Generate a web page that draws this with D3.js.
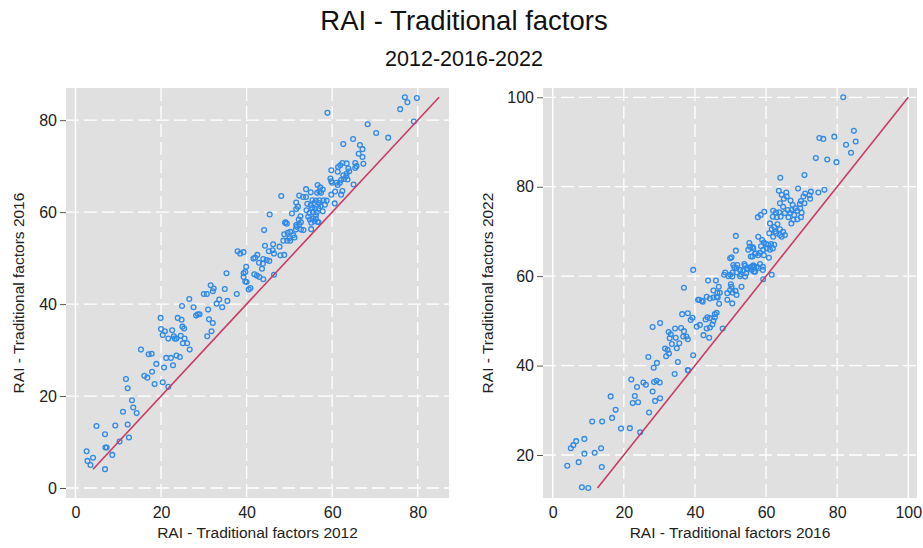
<!DOCTYPE html>
<html>
<head>
<meta charset="utf-8">
<script src="https://cdn.jsdelivr.net/npm/d3@7"></script>
<style>
  html, body { margin: 0; padding: 0; background: #ffffff; }
  svg { display: block; font-family: "Liberation Sans", Arial, sans-serif; }
</style>
</head>
<body>
<svg id="chart" width="923" height="548"></svg>
<script>
// Chart text
const mainTitle = "RAI - Traditional factors";
const subTitle = "2012-2016-2022";
const xTitles = ["RAI - Traditional factors 2012", "RAI - Traditional factors 2016"];
const yTitles = ["RAI - Traditional factors 2016", "RAI - Traditional factors 2022"];

// Tick values per panel
const xTicksA = [0, 20, 40, 60, 80];
const yTicksA = [0, 20, 40, 60, 80];
const xTicksB = [0, 20, 40, 60, 80, 100];
const yTicksB = [20, 40, 60, 80, 100];

// Axis extents per panel
const xDomainA = [-2.22, 87.32];
const yDomainA = [-2.17, 87.0];
const xDomainB = [-2.73, 102.45];
const yDomainB = [10.38, 102.08];

// Regions: score 2012 vs score 2016
const pairs1216 = [
  [2.6,8.0],[2.8,5.9],[3.5,5.0],[4.1,6.6],[6.9,4.1],[4.9,13.5],[6.9,11.7],[7.0,8.8],[7.3,8.8],[8.6,7.2],
  [9.3,13.6],[10.3,10.1],[11.1,16.6],[12.2,13.8],[12.5,11.0],[12.2,21.7],[11.8,23.7],[13.2,19.1],[13.5,17.5],[14.3,16.3],
  [16.1,24.4],[16.8,24.0],[17.9,25.3],[18.5,22.6],[20.4,23.0],[21.7,22.0],
  [15.3,30.1],[17.1,29.1],[17.8,29.2],[18.9,27.0],[20.7,26.2],[22.8,26.7],[21.2,28.3],[22.3,28.3],[23.6,28.8],[24.4,28.5],[26.7,30.1],
  [20.4,33.3],[21.7,32.5],[23.0,33.0],[23.2,32.5],[23.6,32.5],[24.6,33.1],[25.5,32.5],[25.1,31.5],[26.1,31.5],[30.8,33.0],
  [20.0,34.6],[20.9,34.1],[22.6,34.3],[25.0,35.1],[25.4,34.7],[31.8,34.1],
  [19.9,37.0],[23.9,37.0],[24.8,36.6],[28.2,37.5],[28.6,37.8],[29.0,37.8],[31.2,36.7],[32.1,35.9],
  [26.6,41.1],[24.9,39.6],[27.6,39.3],[31.0,38.8],[33.6,41.0],[35.5,40.7],[33.0,40.1],[34.3,39.3],
  [31.6,44.1],[32.3,43.4],[32.1,42.8],[34.9,43.3],[30.0,42.2],[30.7,42.2],[37.7,42.2],
  [35.3,46.7],[39.3,45.9],[39.7,44.9],[40.0,44.8],[40.5,43.2],[40.9,43.5],
  [39.9,48.1],[39.7,47.0],[39.3,46.7],[41.8,46.5],[42.4,46.2],[43.0,45.9],[43.9,45.4],[46.4,46.4],
  [37.9,51.5],[38.5,51.0],[39.3,51.3],[42.5,50.7],[41.6,49.9],[42.0,50.1],[43.9,49.8],[44.7,49.6],[45.3,49.4],[42.9,49.0],[43.8,48.8],[43.6,47.7],
  [44.1,56.1],[49.0,57.7],[48.8,55.2],[49.6,55.5],[48.6,53.8],[49.5,53.8],[44.3,52.7],[46.2,53.0],[45.2,51.5],[46.1,51.7],[46.4,51.0],[47.7,52.5],[47.9,50.6],[48.8,50.7],
  [45.4,59.5],[48.1,63.5],[50.6,59.7],[49.1,57.8],[49.4,57.5],[51.7,56.8],[51.5,56.2],[52.7,56.2],[53.3,56.1],[55.1,56.3],[56.8,57.8],
  [50.2,55.7],[50.9,55.0],[51.2,54.5],[50.0,54.3],[50.2,53.8],
  [52.6,59.1],[52.2,58.4],[52.7,57.8],[52.3,57.3],[51.6,57.2],
  [54.4,59.0],[54.8,58.4],[55.5,58.6],[56.2,58.5],[56.6,57.9],[55.9,58.0],[55.1,57.7],
  [54.2,61.8],[55.0,61.5],[55.3,60.9],[56.0,60.7],[55.5,60.0],[56.4,59.9],[56.8,60.8],[57.3,61.3],[57.8,60.2],[56.2,59.3],
  [54.7,59.8],[55.8,62.0],[58.3,61.6],[57.0,62.0],[54.0,60.4],
  [55.4,62.6],[56.2,62.5],[57.0,62.6],[58.0,62.6],[58.7,62.5],
  [51.6,62.1],[52.0,61.2],[51.6,60.7],[52.3,63.6],[53.2,63.3],[53.9,65.0],[55.0,64.3],[53.9,63.3],
  [56.6,65.9],[57.2,65.4],[57.8,64.9],[57.4,64.2],[56.5,64.2],[57.0,64.5],
  [60.6,61.9],[60.7,64.5],[59.8,63.8],[62.4,64.6],[62.1,63.8],[65.0,66.0],
  [59.8,69.1],[59.6,67.3],[59.8,66.7],[60.0,66.4],
  [62.6,68.0],[63.3,67.8],[63.6,67.1],[62.8,67.2],[62.1,67.0],[61.8,66.4],[61.3,65.9],[61.0,66.4],
  [62.4,70.7],[61.9,70.2],[61.4,69.8],[61.3,68.8],[63.4,70.6],[63.8,69.5],[64.0,68.9],[63.4,68.4],
  [65.4,70.7],[65.7,70.0],[65.4,69.6],[67.3,70.5],[66.2,72.7],[67.1,72.0],
  [66.5,74.6],[67.1,73.7],[62.6,74.8],[64.9,75.9],[68.3,79.1],[70.3,77.2],[73.1,76.2],
  [75.9,82.4],[77.0,85.0],[77.6,83.9],[79.8,84.8],[79.1,79.7],[58.9,81.6]
];

// Regions: score 2016 vs score 2022
const pairs1622 = [
  [4.1,17.6],[5.1,21.5],[5.8,22.2],[6.6,23.1],[7.3,18.4],[8.9,23.6],[8.9,20.3],[8.2,12.8],[10.0,12.6],[11.8,20.5],
  [13.6,21.5],[13.8,17.3],[11.1,27.5],[13.9,27.5],[16.3,33.1],[16.7,28.3],[17.7,30.1],[19.2,25.9],[21.7,26.0],[22.1,36.9],
  [23.7,35.2],[23.1,33.2],[22.5,31.6],[24.0,31.8],[24.6,25.1],[25.5,36.2],[26.2,35.7],[27.1,29.5],[28.1,34.2],[28.5,36.3],
  [29.2,36.6],[30.1,36.2],[28.8,32.1],[30.2,32.7],[34.3,38.1],[38.1,38.9],
  [28.1,48.6],[30.2,49.5],[26.9,41.9],[28.4,39.5],[29.3,40.6],[31.6,43.8],[32.3,43.5],[32.7,42.7],[31.9,42.1],[32.6,47.5],
  [33.2,47.0],[32.9,46.1],[34.6,46.2],[34.4,48.3],[35.6,45.0],[34.9,43.9],[33.5,44.8],[35.2,40.8],[36.1,48.4],[36.9,47.7],
  [36.7,46.5],[37.6,46.5],[38.0,45.9],[39.5,42.3],[38.0,39.0],[36.4,51.5],[38.0,51.7],[36.9,57.4],[39.5,61.4],[39.3,50.7],
  [38.8,50.2],[40.5,48.7],[41.4,49.1],[40.9,54.7],[42.2,54.3],[42.4,46.8],[43.0,50.3],[43.5,50.8],[44.2,50.6],[45.2,50.0],
  [45.6,50.8],[44.0,46.2],[43.3,48.3],[44.2,48.5],[44.9,49.2],[45.6,51.5],[46.1,51.8],[43.3,55.4],[44.2,55.0],[45.2,55.2],
  [46.1,55.4],[46.4,55.2],[46.8,53.8],[46.3,56.3],[45.2,56.8],[45.9,59.0],[43.7,59.0],[47.8,48.3],[48.5,60.8],[49.1,56.2],
  [50.1,58.2],[50.3,57.6],[49.9,56.9],[50.6,56.3],[51.4,56.7],[51.7,55.8],[50.5,53.9],[49.1,54.7],[49.9,60.3],[50.5,59.9],
  [50.8,62.5],[51.7,61.8],[53.1,57.6],[50.3,64.2],[51.5,65.7],[51.5,69.0],[52.7,61.4],[52.9,60.4],[53.9,62.7],[54.4,60.6],
  [54.1,59.9],[54.9,61.6],[55.5,62.0],[56.0,62.1],[56.0,61.4],[56.6,62.1],[56.6,61.0],[57.4,62.1],[58.3,62.7],[59.1,62.1],
  [59.1,61.4],[55.3,67.4],[56.2,66.5],[55.7,64.4],[57.1,65.1],[59.2,59.3],[61.6,60.3],[60.8,64.1],[64.4,68.8],[65.3,69.2],
  [64.8,69.9],
  [46.7,57.6],[47.0,56.3],[41.9,54.5],[41.2,54.7],[48.2,60.3],[49.4,60.0],[50.6,60.8],[51.7,60.8],[52.7,60.0],[53.6,61.3],
  [54.5,61.7],[56.4,62.4],[57.8,61.8],[56.9,61.0],[51.1,62.0],[51.9,62.5],[49.9,64.0],[54.1,62.3],
  [57.8,68.8],[58.9,68.1],[59.4,67.5],[60.0,67.2],[60.6,67.0],[61.4,67.2],[62.3,67.0],[61.9,66.2],[61.1,65.9],[60.2,66.2],
  [59.2,65.9],[58.3,65.2],[56.9,65.0],[56.2,64.4],[57.8,64.7],[59.4,64.7],[62.0,68.8],[62.8,69.6],[58.6,66.7],[55.5,66.6],
  [56.4,66.2],[55.0,65.9],
  [75.0,90.9],[76.1,90.7],[79.2,91.2],[82.5,89.4],[74.0,86.4],[77.2,86.1],[79.8,85.5],[70.8,82.6],[64.0,82.0],[69.0,79.6],
  [63.6,79.1],[76.4,79.3],[74.7,78.7],[72.6,78.9],[72.2,78.1],[71.0,78.5],[70.5,77.8],[72.4,77.3],[69.8,76.8],[69.5,76.1],
  [70.8,76.3],[64.4,78.2],[65.7,78.7],[65.8,77.8],[65.0,77.3],[63.9,76.3],[64.8,75.5],[63.7,74.3],[64.1,73.3],[65.3,74.1],
  [66.1,74.8],[66.9,76.9],[67.5,75.9],[68.2,75.2],[67.2,74.8],[66.8,74.1],[67.9,73.7],[68.8,74.6],[69.6,75.2],[70.0,74.2],
  [69.8,73.2],[68.8,72.7],[67.7,72.6],[66.3,73.2],[67.1,71.8],[62.0,74.6],[62.8,74.2],[61.9,73.3],[63.0,73.2],[61.1,71.8],
  [62.3,71.0],[63.2,71.6],[63.9,70.5],[61.6,70.5],[60.9,69.6],[62.5,70.0],[63.9,69.2],[57.7,73.2],[58.5,73.7],[59.5,74.4],
  [81.7,100.0],[84.7,92.5],[85.2,90.1],[83.9,87.6]
];

const svg = d3.select("#chart");

const COLORS = {
  panel: "#e0e0e0",
  grid: "#ffffff",
  marker: "#2f8ae8",
  diag: "#c93b63",
  text: "#222222",
  tick: "#555555"
};

// Titles
svg.append("text")
  .attr("x", 464).attr("y", 30)
  .attr("text-anchor", "middle")
  .attr("font-size", 27.5)
  .attr("fill", "#111")
  .text(mainTitle);

svg.append("text")
  .attr("x", 464).attr("y", 66)
  .attr("text-anchor", "middle")
  .attr("font-size", 21.5)
  .attr("fill", "#111")
  .text(subTitle);

function drawPanel(opts) {
  const { left, right, top, bottom, xDomain, yDomain, xTicks, yTicks, data,
          xTitle, yTitle, yTitleX, solidX } = opts;

  const x = d3.scaleLinear().domain(xDomain).range([left, right]);
  const y = d3.scaleLinear().domain(yDomain).range([bottom, top]);

  const g = svg.append("g");

  // Plot background
  g.append("rect")
    .attr("x", left).attr("y", top)
    .attr("width", right - left).attr("height", bottom - top)
    .attr("fill", COLORS.panel);

  // Dashed grid
  g.selectAll(".hgrid").data(yTicks).join("line")
    .attr("x1", left).attr("x2", right)
    .attr("y1", d => y(d)).attr("y2", d => y(d))
    .attr("stroke", COLORS.grid).attr("stroke-width", 1.3)
    .attr("stroke-dasharray", "13,5");

  g.selectAll(".vgrid").data(xTicks.filter(d => !solidX.includes(d))).join("line")
    .attr("y1", top).attr("y2", bottom)
    .attr("x1", d => x(d)).attr("x2", d => x(d))
    .attr("stroke", COLORS.grid).attr("stroke-width", 1.3)
    .attr("stroke-dasharray", "13,5");

  g.selectAll(".vsolid").data(solidX).join("line")
    .attr("y1", top).attr("y2", bottom)
    .attr("x1", d => x(d)).attr("x2", d => x(d))
    .attr("stroke", COLORS.grid).attr("stroke-width", 1.5);

  // Axes
  const xAxis = g.append("g")
    .attr("transform", `translate(0,${bottom})`)
    .call(d3.axisBottom(x).tickValues(xTicks).tickSize(0).tickPadding(8.5));
  const yAxis = g.append("g")
    .attr("transform", `translate(${left},0)`)
    .call(d3.axisLeft(y).tickValues(yTicks).tickSize(6).tickPadding(3));

  [xAxis, yAxis].forEach(a => {
    a.select(".domain").remove();
    a.selectAll("text")
      .attr("font-size", 16)
      .attr("font-family", "Liberation Sans, Arial, sans-serif")
      .attr("fill", COLORS.text);
    a.selectAll("line").attr("stroke", COLORS.tick);
  });

  // Axis titles
  g.append("text")
    .attr("x", (left + right) / 2).attr("y", 538)
    .attr("text-anchor", "middle")
    .attr("font-size", 15.5)
    .attr("fill", COLORS.text)
    .text(xTitle);

  g.append("text")
    .attr("transform", `translate(${yTitleX},${(top + bottom) / 2}) rotate(-90)`)
    .attr("text-anchor", "middle")
    .attr("font-size", 15.5)
    .attr("fill", COLORS.text)
    .text(yTitle);

  // Markers
  g.selectAll(".pt").data(data).join("circle")
    .attr("cx", d => x(d[0]))
    .attr("cy", d => y(d[1]))
    .attr("r", 2.4)
    .attr("fill", "none")
    .attr("stroke", COLORS.marker)
    .attr("stroke-width", 1.3);

  // Line of equality over the range of the vertical variable
  const [lo, hi] = d3.extent(data, d => d[1]);
  g.append("line")
    .attr("x1", x(lo)).attr("y1", y(lo))
    .attr("x2", x(hi)).attr("y2", y(hi))
    .attr("stroke", COLORS.diag)
    .attr("stroke-width", 1.6);
}

drawPanel({
  left: 66, right: 449, top: 88, bottom: 498,
  xDomain: xDomainA, yDomain: yDomainA,
  xTicks: xTicksA, yTicks: yTicksA,
  data: pairs1216,
  xTitle: xTitles[0], yTitle: yTitles[0], yTitleX: 24,
  solidX: [0]
});

drawPanel({
  left: 543, right: 917, top: 88, bottom: 498,
  xDomain: xDomainB, yDomain: yDomainB,
  xTicks: xTicksB, yTicks: yTicksB,
  data: pairs1622,
  xTitle: xTitles[1], yTitle: yTitles[1], yTitleX: 493,
  solidX: [0, 100]
});
</script>
</body>
</html>
